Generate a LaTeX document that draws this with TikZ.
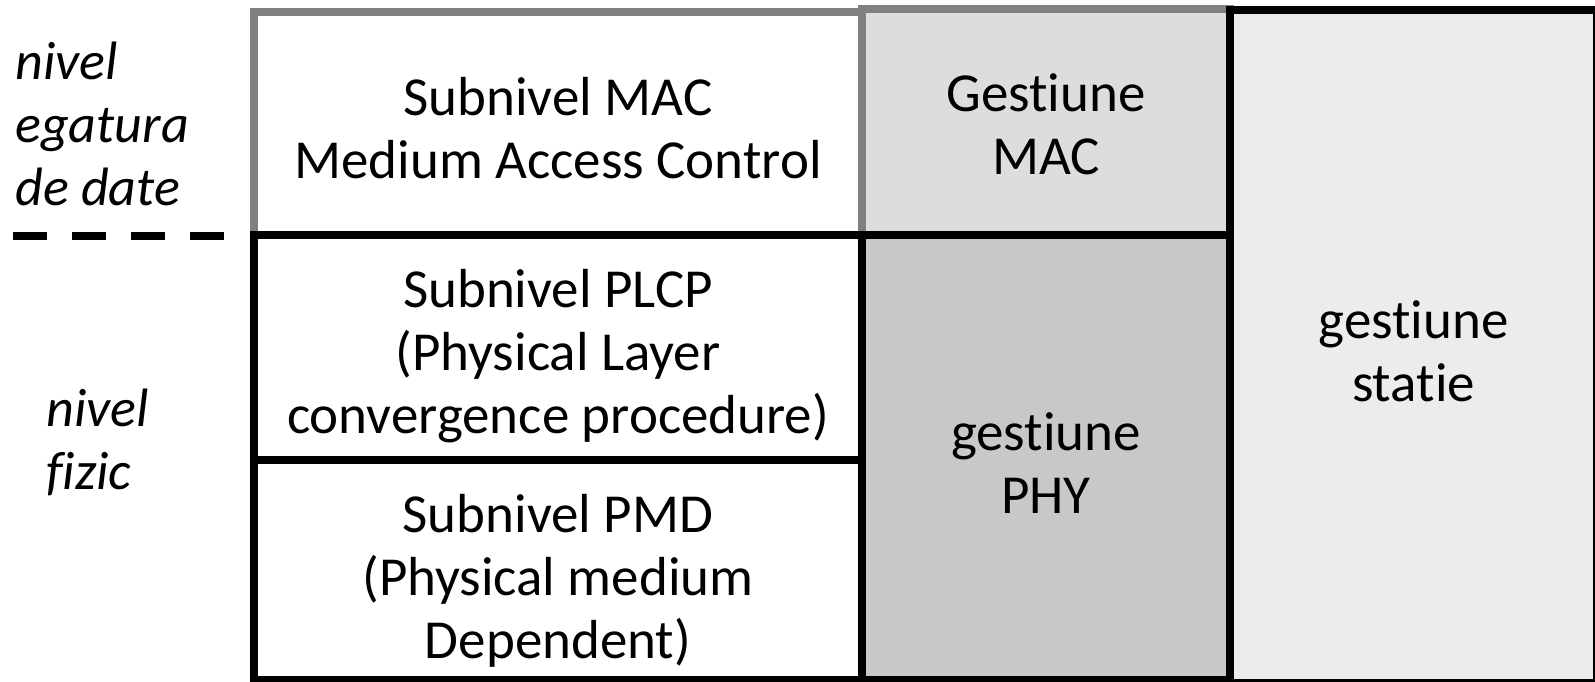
\documentclass[tikz,border=0pt]{standalone}
\usepackage{fontspec}
\setmainfont{Carlito}[Ligatures=NoCommon]
\usepackage{tikz}

\definecolor{edgegray}{HTML}{808080}
\definecolor{macgray}{HTML}{DDDDDD}
\definecolor{phygray}{HTML}{C8C8C8}
\definecolor{stagray}{HTML}{ECECEC}

\begin{document}
\begin{tikzpicture}[x=0.5pt,y=-0.5pt]
\tikzset{layer/.style = {shape=rectangle,draw,line width=4pt,inner sep=0pt}}
\tikzset{wide/.style = {layer,minimum width=304pt}}
\tikzset{narrow/.style = {layer,minimum width=184pt}}
\tikzset{caption/.style = {align=center,inner sep=0pt,
  font=\fontsize{27.5pt}{31.5pt}\selectfont}}
\tikzset{side/.style = {anchor=west,align=left,inner sep=0pt,
  font=\fontsize{27pt}{31.5pt}\selectfont\itshape}}
\useasboundingbox (0,0) rectangle (1595,681);
% upper row
\node[wide,draw=edgegray,minimum height=111.5pt] (mac) at (558,123.5) {};
\node[narrow,draw=edgegray,fill=macgray,minimum height=113pt] (gmac) at (1046,122) {};
% physical sublayers
\node[wide,minimum height=112.5pt] (plcp) at (558,347.5) {};
\node[wide,minimum height=110pt] (pmd) at (558,570) {};
\node[narrow,fill=phygray,minimum height=222.5pt] (gphy) at (1046,457.5) {};
\node[layer,fill=stagray,minimum width=183.5pt,minimum height=336.5pt] (gsta) at (1413.5,346.5) {};
% box texts
\node[caption] (mactext) at (558,128.5) {Subnivel MAC\\Medium Access Control};
\node[caption] (gmactext) at (1046,124.5) {Gestiune\\MAC};
\node[caption] (plcptext) at (558,356.5) {Subnivel PLCP\\(Physical Layer\\convergence procedure)};
\node[caption] (pmdtext) at (558,581) {Subnivel PMD\\(Physical medium\\Dependent)};
\node[caption] (gphytext) at (1046,463) {gestiune\\PHY};
\node[caption] (gstatext) at (1413.5,351) {gestiune\\statie};
% level labels
\node[side] (dll) at (15,124) {nivel\\egatura\\de date};
\node[side] (phys) at (46,442) {nivel\\fizic};
\coordinate (cuta) at (13,236);
\coordinate (cutb) at (226,236);
\draw[line width=4pt,dash pattern=on 17pt off 12.5pt] (cuta) -- (cutb);
\end{tikzpicture}
\end{document}
